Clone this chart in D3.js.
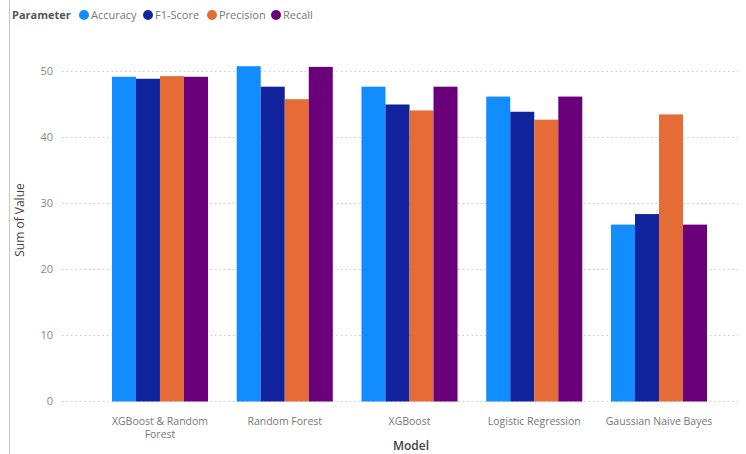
<!DOCTYPE html>
<html lang="en">
  <head>
    <meta charset="UTF-8" />
    <title>Sum of Value by Model and Parameter</title>
    <script src="https://d3js.org/d3.v7.min.js"></script>
    <style>
      body {
        margin: 0;
        background: #fff;
        font-family: "Segoe UI", "Open Sans", "Noto Sans", sans-serif;
      }
    </style>
  </head>
  <body>
    <div id="chart"></div>
    <script>
      const models = [
        ["XGBoost & Random", "Forest"],
        ["Random Forest"],
        ["XGBoost"],
        ["Logistic Regression"],
        ["Gaussian Naive Bayes"],
      ];
      const parameters = ["Accuracy", "F1-Score", "Precision", "Recall"];
      const colors = ["#118DFF", "#12239E", "#E66C37", "#6B007B"];

      // values per model, in parameter order
      const accuracy = [49.2, 50.8, 47.7, 46.2, 26.8];
      const f1Score = [48.9, 47.7, 45.0, 43.9, 28.4];
      const precision = [49.3, 45.8, 44.1, 42.7, 43.5];
      const recall = [49.2, 50.7, 47.7, 46.2, 26.8];
      const yTicks = [0, 10, 20, 30, 40, 50];

      const series = [accuracy, f1Score, precision, recall];
      const width = 746, height = 454;

      const svg = d3
        .select("#chart")
        .append("svg")
        .attr("width", width)
        .attr("height", height)
        .style("display", "block");

      // left border line
      svg.append("line")
        .attr("x1", 9.5).attr("x2", 9.5)
        .attr("y1", 0).attr("y2", height)
        .attr("stroke", "#c8c8c8");

      const x0 = d3.scaleBand()
        .domain(d3.range(models.length))
        .range([97.6, 721.4])
        .paddingInner(0.23)
        .paddingOuter(0.115);
      const x1 = d3.scaleBand()
        .domain(d3.range(parameters.length))
        .range([0, x0.bandwidth()]);
      const y = d3.scaleLinear().domain([0, 50]).range([401.5, 71.5]);

      // gridlines
      svg.append("g")
        .selectAll("line")
        .data(yTicks)
        .join("line")
        .attr("x1", 62).attr("x2", 738)
        .attr("y1", (d) => y(d)).attr("y2", (d) => y(d))
        .attr("stroke", "#c8c8c8")
        .attr("stroke-dasharray", "1.5,3");

      svg.append("g")
        .selectAll("text")
        .data(yTicks)
        .join("text")
        .attr("x", 53)
        .attr("y", (d) => y(d))
        .attr("dy", "0.35em")
        .attr("text-anchor", "end")
        .attr("fill", "#888")
        .style("font-size", "11px")
        .text((d) => d);

      // bars
      const groups = svg.append("g")
        .selectAll("g")
        .data(models)
        .join("g")
        .attr("transform", (d, i) => `translate(${x0(i)},0)`);

      groups.selectAll("rect")
        .data((d, i) => series.map((s, k) => ({ k, v: s[i] })))
        .join("rect")
        .attr("x", (d) => x1(d.k))
        .attr("width", x1.bandwidth())
        .attr("y", (d) => y(d.v))
        .attr("height", (d) => y(0) - y(d.v))
        .attr("fill", (d) => colors[d.k]);

      // category labels
      groups.append("text")
        .attr("y", 421)
        .attr("text-anchor", "middle")
        .attr("fill", "#777")
        .style("font-size", "10.5px")
        .selectAll("tspan")
        .data((d) => d)
        .join("tspan")
        .attr("x", x0.bandwidth() / 2)
        .attr("y", (d, i) => 421 + i * 13)
        .attr("dy", "0.35em")
        .text((d) => d);

      // axis titles
      svg.append("text")
        .attr("x", 411)
        .attr("y", 446)
        .attr("dy", "0.35em")
        .attr("text-anchor", "middle")
        .attr("fill", "#444")
        .style("font-size", "12px")
        .style("font-weight", "600")
        .text("Model");

      svg.append("text")
        .attr("transform", "translate(20,220) rotate(-90)")
        .attr("dy", "0.35em")
        .attr("text-anchor", "middle")
        .attr("fill", "#444")
        .style("font-size", "12px")
        .text("Sum of Value");

      // legend
      const legend = svg.append("g").attr("transform", "translate(12,15)");
      legend.append("text")
        .attr("dy", "0.35em")
        .attr("fill", "#555")
        .style("font-size", "11px")
        .style("font-weight", "bold")
        .text("Parameter");
      const legendX = [72, 136, 200, 264];
      const item = legend.selectAll("g.item")
        .data(parameters)
        .join("g")
        .attr("class", "item")
        .attr("transform", (d, i) => `translate(${legendX[i]},0)`);
      item.append("circle").attr("r", 5).attr("fill", (d, i) => colors[i]);
      item.append("text")
        .attr("x", 7)
        .attr("dy", "0.35em")
        .attr("fill", "#777")
        .style("font-size", "11px")
        .text((d) => d);
    </script>
  </body>
</html>
